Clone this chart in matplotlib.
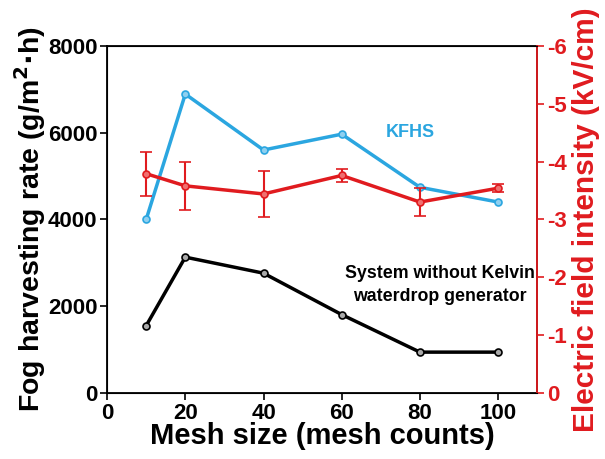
import matplotlib.pyplot as plt

plt.rcParams['font.family'] = ['Liberation Sans', 'DejaVu Sans']
plt.rcParams['font.weight'] = 'bold'

mesh = [10, 20, 40, 60, 80, 100]
kfhs = [4000, 6890, 5600, 5965, 4740, 4400]
no_kelvin = [1550, 3130, 2760, 1805, 940, 940]
efield = [-3.79, -3.58, -3.44, -3.76, -3.30, -3.54]
efield_err = [0.38, 0.41, 0.40, 0.12, 0.24, 0.07]

blue = '#2BA6E0'
red = '#E01B1F'

fig, ax = plt.subplots(figsize=(6.05, 4.59), dpi=100)
fig.subplots_adjust(left=0.177, right=0.888, top=0.9, bottom=0.144)

ax.plot(mesh, kfhs, '-o', color=blue, lw=2.5, ms=5, mfc='#8fd0f0', mec=blue, mew=1.2)
ax.plot(mesh, no_kelvin, '-o', color='black', lw=2.5, ms=5, mfc='#aaaaaa', mec='black', mew=1.2)

ax.set_xlim(0, 110)
ax.set_ylim(0, 8000)
ax.set_xticks([0, 20, 40, 60, 80, 100])
ax.set_yticks([0, 2000, 4000, 6000, 8000])
ax.tick_params(labelsize=16, width=1.2, length=5, pad=2)
for s in ax.spines.values():
    s.set_linewidth(1.3)
ax.set_xlabel('Mesh size (mesh counts)', fontsize=21, fontweight='bold', labelpad=-1)
ax.set_ylabel('Fog harvesting rate (g/m$^\\mathbf{2}$$\\mathbf{\\cdot}$h)', fontsize=20.5, fontweight='bold', labelpad=0)

ax2 = ax.twinx()
ax2.errorbar(mesh, efield, yerr=efield_err, fmt='-o', color=red, lw=2.5, ms=5,
             mfc='#f07070', mec=red, mew=1.2, capsize=4, elinewidth=1.5, capthick=1.5)
ax2.set_ylim(0, -6)
ax2.set_yticks([0, -1, -2, -3, -4, -5, -6])
ax2.set_yticklabels(['0', '-1', '-2', '-3', '-4', '-5', '-6'])
ax2.tick_params(labelsize=16, colors=red, width=1.2, length=5, pad=2)
ax2.spines['right'].set_color(red)
ax2.spines['right'].set_linewidth(1.3)
ax2.set_ylabel('Electric field intensity (kV/cm)', fontsize=21.5, fontweight='bold', color=red, labelpad=4)

ax.text(77.5, 6000, 'KFHS', color=blue, fontsize=13, fontweight='bold', ha='center', va='center')
ax.text(85, 2490, 'System without Kelvin\nwaterdrop generator', color='black', fontsize=12.8,
        fontweight='bold', ha='center', va='center', linespacing=1.5)

fig.savefig('out.png', dpi=100)
